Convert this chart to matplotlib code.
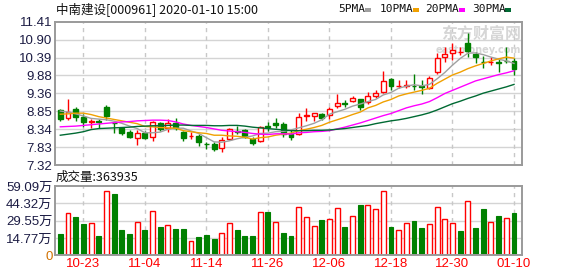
import matplotlib.pyplot as plt
from matplotlib.patches import Rectangle
import numpy as np


OUT_PATH = "out.png"

TITLE = "中南建设[000961] 2020-01-10 15:00"
VOLUME_TITLE = "成交量:363935"

DATES = [
    "10-18", "10-21", "10-22", "10-23", "10-24", "10-25", "10-28", "10-29",
    "10-30", "10-31", "11-01", "11-04", "11-05", "11-06", "11-07", "11-08",
    "11-11", "11-12", "11-13", "11-14", "11-15", "11-18", "11-19", "11-20",
    "11-21", "11-22", "11-25", "11-26", "11-27", "11-28", "11-29", "12-02",
    "12-03", "12-04", "12-05", "12-06", "12-09", "12-10", "12-11", "12-12",
    "12-13", "12-16", "12-17", "12-18", "12-19", "12-20", "12-23", "12-24",
    "12-25", "12-26", "12-27", "12-30", "12-31", "01-02", "01-03", "01-06",
    "01-07", "01-08", "01-09", "01-10",
]

OPEN = [
    8.89, 8.65, 8.92, 8.69, 8.54, 8.57, 8.98, 8.53, 8.38, 8.27,
    8.10, 8.24, 8.13, 8.51, 8.37, 8.53, 8.25, 8.15, 8.15, 7.92,
    7.92, 7.81, 8.05, 8.28, 8.32, 8.07, 8.00, 8.42, 8.52, 8.48,
    8.20, 8.20, 8.72, 8.73, 8.77, 8.75, 9.01, 9.10, 9.15, 9.20,
    9.13, 9.29, 9.41, 9.77, 9.57, 9.58, 9.58, 9.58, 9.53, 9.98,
    10.39, 10.51, 10.54, 10.79, 10.49, 10.27, 10.25, 10.27, 10.30, 10.29,
]
HIGH = [
    8.92, 9.20, 8.97, 8.77, 8.62, 8.64, 9.03, 8.56, 8.41, 8.31,
    8.32, 8.29, 8.58, 8.56, 8.62, 8.65, 8.29, 8.25, 8.20, 7.98,
    7.97, 8.13, 8.39, 8.44, 8.36, 8.12, 8.44, 8.56, 8.67, 8.56,
    8.32, 8.80, 8.94, 8.80, 8.80, 8.97, 9.34, 9.17, 9.29, 9.20,
    9.41, 9.46, 10.00, 9.79, 9.75, 9.74, 9.91, 9.76, 9.86, 10.52,
    10.68, 10.79, 10.68, 11.10, 10.55, 10.43, 10.41, 10.37, 10.70, 10.37,
]
LOW = [
    8.57, 8.60, 8.58, 8.40, 8.37, 8.39, 8.60, 8.24, 8.19, 8.08,
    7.89, 8.06, 8.01, 8.28, 8.27, 8.32, 8.00, 8.07, 7.87, 7.77,
    7.73, 7.68, 8.04, 8.20, 8.10, 7.88, 7.98, 8.29, 8.37, 8.13,
    8.03, 8.18, 8.58, 8.58, 8.60, 8.62, 8.94, 8.98, 9.11, 8.89,
    9.05, 9.22, 9.37, 9.46, 9.51, 9.51, 9.46, 9.34, 9.49, 9.92,
    10.27, 10.32, 10.46, 10.39, 10.24, 10.08, 10.17, 9.98, 10.22, 9.89,
]
CLOSE = [
    8.63, 8.83, 8.70, 8.55, 8.57, 8.55, 8.72, 8.51, 8.24, 8.13,
    8.22, 8.08, 8.54, 8.34, 8.51, 8.37, 8.08, 8.16, 7.97, 7.91,
    7.78, 8.03, 8.35, 8.27, 8.13, 7.95, 8.41, 8.40, 8.45, 8.20,
    8.13, 8.70, 8.74, 8.80, 8.67, 8.92, 9.08, 9.07, 9.23, 8.98,
    9.29, 9.38, 9.72, 9.57, 9.58, 9.59, 9.57, 9.56, 9.81, 10.36,
    10.49, 10.60, 10.55, 10.56, 10.39, 10.26, 10.27, 10.24, 10.28, 10.06,
]

# volume in units of 万 (10k lots)
VOLUME = [
    18.2, 35.8, 32.4, 26.7, 27.3, 16.5, 54.6, 52.3, 21.6, 18.2,
    28.1, 21.6, 37.5, 24.1, 25.6, 22.4, 22.4, 12.2, 15.6, 17.3,
    13.9, 18.8, 27.3, 21.6, 16.5, 16.5, 36.7, 37.2, 28.1, 19.0,
    16.5, 40.9, 32.4, 24.7, 30.1, 30.7, 40.1, 24.1, 33.3, 42.9,
    42.6, 39.2, 54.6, 24.1, 21.6, 27.3, 29.2, 23.3, 26.4, 40.9,
    30.7, 27.3, 20.7, 46.0, 23.3, 39.5, 28.1, 33.5, 31.5, 36.39,
]

MA5 = [
    8.86, 8.83, 8.78, 8.72, 8.65, 8.63, 8.61, 8.57, 8.51, 8.43,
    8.36, 8.24, 8.24, 8.26, 8.34, 8.37, 8.37, 8.29, 8.22, 8.10,
    7.98, 7.97, 8.01, 8.07, 8.11, 8.15, 8.22, 8.23, 8.27, 8.28,
    8.32, 8.38, 8.44, 8.51, 8.61, 8.77, 8.84, 8.91, 9.00, 9.06,
    9.13, 9.19, 9.32, 9.39, 9.51, 9.57, 9.61, 9.58, 9.62, 9.78,
    9.96, 10.17, 10.36, 10.51, 10.52, 10.47, 10.40, 10.34, 10.29, 10.22,
]
MA10 = [
    8.77, 8.78, 8.80, 8.80, 8.76, 8.70, 8.66, 8.62, 8.58, 8.54,
    8.50, 8.42, 8.41, 8.39, 8.38, 8.37, 8.30, 8.27, 8.24, 8.22,
    8.17, 8.17, 8.15, 8.14, 8.11, 8.06, 8.10, 8.12, 8.17, 8.20,
    8.23, 8.30, 8.34, 8.39, 8.45, 8.54, 8.61, 8.68, 8.76, 8.83,
    8.95, 9.02, 9.12, 9.19, 9.29, 9.35, 9.40, 9.45, 9.51, 9.65,
    9.77, 9.89, 9.97, 10.07, 10.15, 10.22, 10.29, 10.35, 10.40, 10.37,
]
MA20 = [
    8.41, 8.42, 8.43, 8.45, 8.47, 8.49, 8.51, 8.53, 8.55, 8.56,
    8.58, 8.59, 8.60, 8.60, 8.59, 8.55, 8.49, 8.45, 8.42, 8.39,
    8.35, 8.31, 8.29, 8.27, 8.25, 8.22, 8.20, 8.19, 8.21, 8.21,
    8.20, 8.24, 8.25, 8.27, 8.28, 8.30, 8.35, 8.40, 8.46, 8.52,
    8.59, 8.66, 8.73, 8.79, 8.87, 8.95, 9.01, 9.06, 9.13, 9.24,
    9.36, 9.45, 9.54, 9.63, 9.72, 9.78, 9.84, 9.90, 9.95, 10.01,
]
MA30 = [
    8.17, 8.20, 8.23, 8.27, 8.33, 8.36, 8.37, 8.38, 8.39, 8.40,
    8.42, 8.43, 8.44, 8.44, 8.45, 8.46, 8.46, 8.45, 8.45, 8.45,
    8.44, 8.44, 8.45, 8.45, 8.43, 8.40, 8.38, 8.36, 8.34, 8.32,
    8.30, 8.30, 8.30, 8.31, 8.31, 8.32, 8.34, 8.36, 8.39, 8.42,
    8.45, 8.50, 8.54, 8.58, 8.61, 8.65, 8.70, 8.75, 8.81, 8.89,
    8.98, 9.07, 9.14, 9.22, 9.29, 9.37, 9.43, 9.49, 9.55, 9.62,
]

PRICE_TICKS = ["7.32", "7.83", "8.34", "8.85", "9.36", "9.88", "10.39", "10.90", "11.41"]
VOLUME_TICKS = ["0", "14.77万", "29.55万", "44.32万", "59.09万"]
VOLUME_MAX = 59.09

MA_LABELS = ["5PMA", "10PMA", "20PMA", "30PMA"]
MA_COLORS = ["#a0a0a0", "#f0a000", "#ff00ff", "#006a33"]

UP_COLOR = "#ff0000"
DOWN_COLOR = "#008000"
FRAME_COLOR = "#9a9a9a"
GRID_COLOR = "#d4d4d4"
LABEL_COLOR = "#1c1c44"

CJK = ["Noto Sans CJK SC", "DejaVu Sans"]
NUM = ["Liberation Sans", "Noto Sans CJK SC"]

FIG_W, FIG_H = 578, 276


def px_box(left, top, right, bottom):
    return [left / FIG_W, 1 - bottom / FIG_H, (right - left) / FIG_W, (bottom - top) / FIG_H]


def style_frame(ax):
    for spine in ax.spines.values():
        spine.set_color(FRAME_COLOR)
        spine.set_linewidth(1.4)
    ax.tick_params(length=0, pad=2)


def draw_candles(ax, x):
    width = 0.64
    for i in x:
        o, h, l, c = OPEN[i], HIGH[i], LOW[i], CLOSE[i]
        top, bottom = max(o, c), min(o, c)
        body = max(top - bottom, 0.004)
        if c >= o:
            ax.vlines(i, top, h, color=UP_COLOR, lw=1, zorder=2)
            ax.vlines(i, l, bottom, color=UP_COLOR, lw=1, zorder=2)
            ax.add_patch(Rectangle((i - width / 2, bottom), width, body,
                                   facecolor="white", edgecolor=UP_COLOR, lw=1, zorder=2))
        else:
            ax.vlines(i, l, h, color=DOWN_COLOR, lw=1, zorder=2)
            ax.add_patch(Rectangle((i - width / 2, bottom), width, body,
                                   facecolor=DOWN_COLOR, edgecolor=DOWN_COLOR, lw=1, zorder=2))


def draw_volume(ax, x):
    width = 0.64
    prev = [OPEN[0]] + CLOSE[:-1]
    for i in x:
        if CLOSE[i] >= prev[i]:
            ax.add_patch(Rectangle((i - width / 2, 0), width, VOLUME[i],
                                   facecolor="white", edgecolor=UP_COLOR, lw=1, zorder=2))
        else:
            ax.add_patch(Rectangle((i - width / 2, 0), width, VOLUME[i],
                                   facecolor=DOWN_COLOR, edgecolor=DOWN_COLOR, lw=0.8, zorder=2))


def main():
    x = np.arange(len(CLOSE))
    date_ticks = x[3::8]

    fig = plt.figure(figsize=(FIG_W / 100, FIG_H / 100), dpi=100)
    ax = fig.add_axes(px_box(55.3, 21.7, 522, 165))
    axv = fig.add_axes(px_box(55.3, 186, 522, 255.3))

    # price panel
    price_ticks = np.linspace(7.32, 11.41, len(PRICE_TICKS))
    ax.set_xlim(-0.65, 60.04)
    ax.set_ylim(7.32, 11.41)
    ax.set_yticks(price_ticks)
    ax.set_yticklabels(PRICE_TICKS, family=NUM, fontsize=9.5, color=LABEL_COLOR)
    ax.set_xticks(date_ticks)
    ax.set_xticklabels([])
    for t in price_ticks[1:-1]:
        ax.axhline(t, color=GRID_COLOR, lw=1, zorder=0)
    for t in date_ticks:
        ax.axvline(t, color="#c8c8c8", lw=1, ls=(0, (3, 3)), zorder=0)
    style_frame(ax)

    # watermark
    ax.text(0.997, 0.915, "东方财富网", transform=ax.transAxes, ha="right", va="center",
            family=CJK, fontsize=11.5, fontweight="bold", color="#d6d6d6", zorder=1)
    ax.text(0.997, 0.805, "eastmoney.com", transform=ax.transAxes, ha="right", va="center",
            family=["DejaVu Sans"], fontsize=7, fontweight="bold", color="#d6d6d6", zorder=1)

    draw_candles(ax, x)
    for values, color in zip([MA5, MA10, MA20, MA30], MA_COLORS):
        ax.plot(x, values, color=color, lw=1.0, zorder=3)

    # volume panel
    vol_ticks = np.linspace(0, VOLUME_MAX, len(VOLUME_TICKS))
    axv.set_xlim(-0.65, 60.04)
    axv.set_ylim(0, VOLUME_MAX)
    axv.set_yticks(vol_ticks)
    labels = axv.set_yticklabels(VOLUME_TICKS, family=NUM, fontsize=9.5, color=LABEL_COLOR)
    labels[0].set_color("#d07000")
    axv.set_xticks(date_ticks)
    axv.set_xticklabels([DATES[i] for i in date_ticks], family=NUM, fontsize=9.5, color=UP_COLOR)
    axv.tick_params(axis="x", pad=4)
    for t in vol_ticks[1:-1]:
        axv.axhline(t, color=GRID_COLOR, lw=1, zorder=0)
    for t in date_ticks:
        axv.axvline(t, color="#c8c8c8", lw=1, ls=(0, (3, 3)), zorder=0)
    style_frame(axv)
    draw_volume(axv, x)

    # header texts
    fig.text(56 / FIG_W, 1 - 9.5 / FIG_H, TITLE, family=CJK, fontsize=9,
             color="#111111", ha="left", va="center")
    fig.text(56 / FIG_W, 1 - 177.5 / FIG_H, VOLUME_TITLE, family=CJK, fontsize=9,
             color="#111111", ha="left", va="center")

    label_x = [338, 380, 425, 472]
    swatch_x = [365, 413, 459, 505]
    for lx, sx, label, color in zip(label_x, swatch_x, MA_LABELS, MA_COLORS):
        fig.text(lx / FIG_W, 1 - 9.5 / FIG_H, label, family=["DejaVu Sans Mono"],
                 fontsize=8, color="#111111", ha="left", va="center")
        fig.patches.append(Rectangle((sx / FIG_W, 1 - 11.5 / FIG_H), 6 / FIG_W, 4 / FIG_H,
                                     transform=fig.transFigure, facecolor=color,
                                     edgecolor="none"))

    fig.savefig(OUT_PATH, dpi=100)
    plt.close(fig)


if __name__ == "__main__":
    main()
